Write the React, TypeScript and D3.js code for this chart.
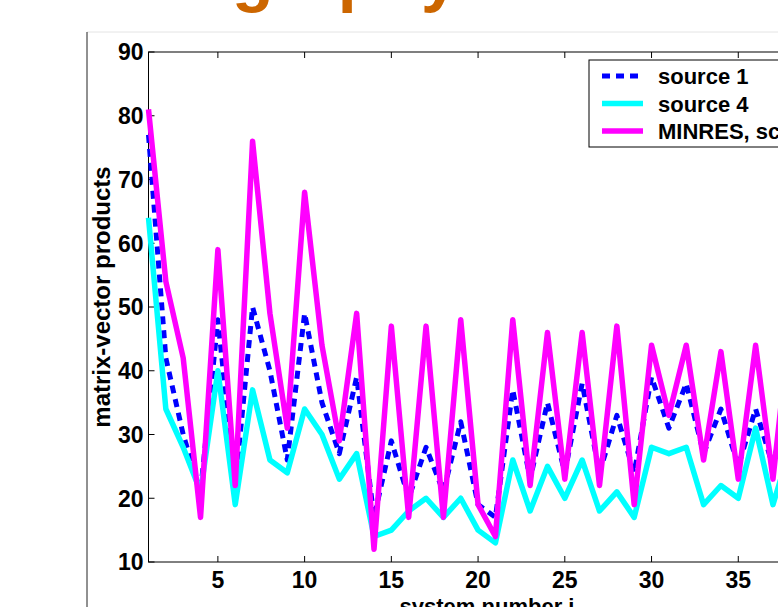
import React from "react";
import * as d3 from "d3";

// system number i
const systemNumbers = [
  1, 2, 3, 4, 5, 6, 7, 8, 9, 10, 11, 12, 13, 14, 15, 16, 17, 18, 19, 20,
  21, 22, 23, 24, 25, 26, 27, 28, 29, 30, 31, 32, 33, 34, 35, 36, 37, 38,
];

// matrix-vector products per system
const source1 = [
  77, 42, 30, 21, 48, 22, 50, 40, 26, 49, 35, 27, 39, 17, 29, 20, 28, 21, 32, 19,
  17, 37, 23, 35, 24, 38, 24, 33, 24, 39, 31, 38, 27, 34, 25, 34, 25, 38,
];
const source4 = [
  64, 34, 28, 21, 40, 19, 37, 26, 24, 34, 30, 23, 27, 14, 15, 18, 20, 17, 20, 15,
  13, 26, 18, 25, 20, 26, 18, 21, 17, 28, 27, 28, 19, 22, 20, 31, 19, 28,
];
const minres = [
  81, 54, 42, 17, 59, 22, 76, 49, 31, 68, 44, 29, 49, 12, 47, 17, 47, 17, 48, 19,
  14, 48, 22, 46, 23, 46, 22, 47, 19, 44, 33, 44, 26, 43, 23, 44, 23, 48,
];

// only the ticks inside the visible part of the figure
const xTicks = [5, 10, 15, 20, 25, 30, 35];
const yTicks = [10, 20, 30, 40, 50, 60, 70, 80, 90];

const seriesNames = ["source 1", "source 4", "MINRES, scratch"];
const seriesColors = ["#0000ff", "#00ffff", "#ff00ff"];

const font = "'Liberation Sans', Arial, Helvetica, sans-serif";

export default function App() {
  const width = 778;
  const height = 607;

  const x = d3.scaleLinear().domain([1, 40]).range([148.5, 825]);
  const y = d3.scaleLinear().domain([10, 90]).range([562, 52]);

  const line = d3
    .line<number>()
    .x((d, i) => x(systemNumbers[i]))
    .y((d) => y(d));

  const allSeries = [source1, source4, minres];
  const [x0, x1] = x.range();
  const [yBottom, yTop] = y.range();

  // legend layout
  const legendLeft = 589;
  const legendTop = 60;
  const rowGap = 27.5;

  return (
    <svg
      width={width}
      height={height}
      style={{ position: "absolute", left: 0, top: 0, background: "#fff" }}
      fontFamily={font}
    >
      {/* slide title, mostly cut off above */}
      <text x={52} y={-1} fontSize={68} fontWeight="bold" fill="#cc6600">
        Tomography
      </text>

      {/* figure frame */}
      <line x1={87} x2={width} y1={32} y2={32} stroke="#e4e4e4" />
      <line x1={87} x2={87} y1={32} y2={height} stroke="#222" />

      {/* axes box */}
      <rect x={x0} y={yTop} width={x1 - x0} height={yBottom - yTop} fill="#fff" stroke="#000" />

      {xTicks.map((t) => (
        <g key={"x" + t}>
          <line x1={x(t)} x2={x(t)} y1={yBottom} y2={yBottom - 6} stroke="#000" />
          <line x1={x(t)} x2={x(t)} y1={yTop} y2={yTop + 6} stroke="#000" />
          <text x={x(t)} y={yBottom + 26} fontSize={23} fontWeight="bold" textAnchor="middle">
            {t}
          </text>
        </g>
      ))}
      {yTicks.map((t) => (
        <g key={"y" + t}>
          <line x1={x0} x2={x0 + 6} y1={y(t)} y2={y(t)} stroke="#000" />
          <text
            x={x0 - 5}
            y={y(t)}
            dy="0.36em"
            fontSize={23}
            fontWeight="bold"
            textAnchor="end"
          >
            {t}
          </text>
        </g>
      ))}

      {/* series */}
      {allSeries.map((s, k) => (
        <path
          key={seriesNames[k]}
          d={line(s) || ""}
          fill="none"
          stroke={seriesColors[k]}
          strokeWidth={k === 0 ? 5 : 5.5}
          strokeDasharray={k === 0 ? "8,6" : undefined}
          strokeLinejoin="round"
        />
      ))}

      {/* axis labels */}
      <text
        transform="translate(110,297) rotate(-90)"
        fontSize={24}
        fontWeight="bold"
        textAnchor="middle"
      >
        matrix-vector products
      </text>
      <text x={487} y={614} fontSize={22} fontWeight="bold" textAnchor="middle">
        system number i
      </text>

      {/* legend */}
      <rect x={legendLeft} y={legendTop} width={260} height={87} fill="#fff" stroke="#000" />
      {seriesNames.map((name, k) => {
        const cy = legendTop + 16 + k * rowGap;
        return (
          <g key={"leg" + name}>
            <line
              x1={legendLeft + 13}
              x2={legendLeft + 54}
              y1={cy}
              y2={cy}
              stroke={seriesColors[k]}
              strokeWidth={k === 0 ? 5 : 5.5}
              strokeDasharray={k === 0 ? "8,6" : undefined}
            />
            <text x={legendLeft + 69} y={cy + 8} fontSize={22} fontWeight="bold">
              {name}
            </text>
          </g>
        );
      })}
    </svg>
  );
}
